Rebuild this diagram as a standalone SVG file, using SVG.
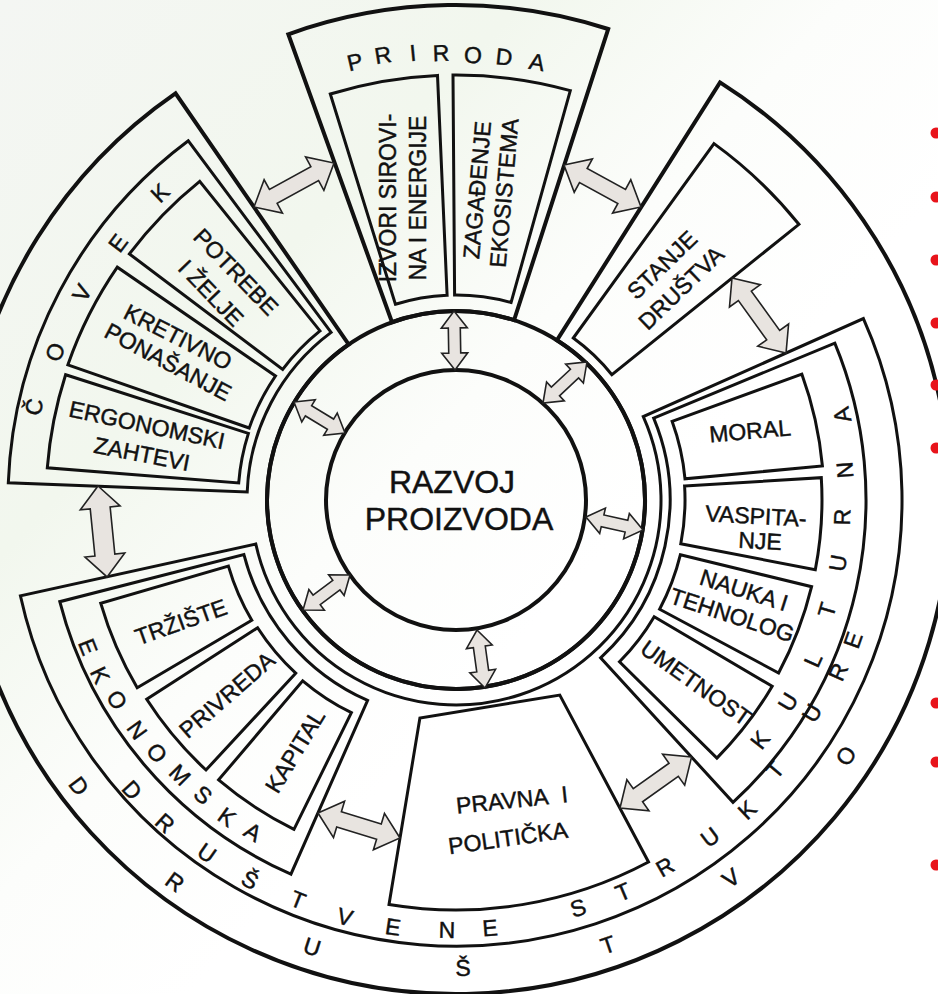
<svg xmlns="http://www.w3.org/2000/svg" width="938" height="994" viewBox="0 0 938 994">
<style>
.ln{fill:none;stroke:#111;stroke-width:3;stroke-linejoin:miter}
.thk{stroke-width:4}
.arr{fill:#e8e4e0;stroke:#222;stroke-width:1.6;stroke-linejoin:miter}
text{font-family:"Liberation Sans",Arial,sans-serif;fill:#111;stroke:#111;stroke-width:0.45}
.lb{font-size:23px;text-anchor:middle;dominant-baseline:central}
.rl{font-size:23px;text-anchor:middle;dominant-baseline:central}
.big{font-size:32px;text-anchor:middle;dominant-baseline:central}
.dot{fill:#e8141b}
</style>
<defs>
<linearGradient id="haze" x1="0" y1="0" x2="1" y2="1">
<stop offset="0" stop-color="#f4f6f3"/>
<stop offset="0.28" stop-color="#f2f7ee"/>
<stop offset="0.45" stop-color="#fcfdfb"/>
<stop offset="0.6" stop-color="#ffffff"/>
</linearGradient>
</defs>
<rect width="938" height="994" fill="#fff"/>
<rect width="938" height="994" fill="url(#haze)"/>

<g id="drustvo">
<path class="ln thk" d="M720,82.4 A494,494 0 1 1 175.5,93.4 L348.7,344.4 A189,189 0 1 0 557,340.2 Z"/>
<text class="rl" transform="translate(79,786) rotate(52.9)">D</text>
<text class="rl" transform="translate(175,882) rotate(36.3)">R</text>
<text class="rl" transform="translate(312,947) rotate(17.9)">U</text>
<text class="rl" transform="translate(463,968) rotate(-0.9)">Š</text>
<text class="rl" transform="translate(608,945) rotate(-18.9)">T</text>
<text class="rl" transform="translate(731,878) rotate(-36)">V</text>
<text class="rl" transform="translate(846,756) rotate(-56.7)">O</text>
</g>

<g id="ring">
<circle class="ln thk" cx="456" cy="500" r="189"/>
</g>

<g id="razvoj-proizvoda">
<circle class="ln thk" cx="456" cy="500" r="130"/>
<text class="big" x="452" y="482">RAZVOJ</text>
<text class="big" x="459" y="519">PROIZVODA</text>
</g>

<g id="priroda">
<path class="ln thk" d="M288.3,34.3 A495,495 0 0 1 608.2,29 L514.1,320.1 A189,189 0 0 0 392,322.2 Z"/>
<text class="rl" transform="translate(355,62) rotate(-13)">P</text>
<text class="rl" transform="translate(383,55) rotate(-9.3)">R</text>
<text class="rl" transform="translate(413,53) rotate(-5.5)">I</text>
<text class="rl" transform="translate(441,53) rotate(-2)">R</text>
<text class="rl" transform="translate(473,55) rotate(2.2)">O</text>
<text class="rl" transform="translate(504,57) rotate(6.1)">D</text>
<text class="rl" transform="translate(537,62) rotate(10.5)">A</text>
</g>
<g id="izvori">
<path class="ln" d="M330.3,94 A425,425 0 0 1 437.5,75.4 L447.1,295.2 A205,205 0 0 0 395.4,304.2 Z"/>
<text class="lb" transform="translate(388,198) rotate(-90)">IZVORI SIROVI-</text>
<text class="lb" transform="translate(418,198) rotate(-90)">NA I ENERGIJE</text>
</g>
<g id="zagadjenje">
<path class="ln" d="M453,75 A425,425 0 0 1 570.3,90.6 L511.1,302.5 A205,205 0 0 0 454.6,295 Z"/>
<text class="lb" transform="translate(477,190) rotate(-85)">ZAGAĐENJE</text>
<text class="lb" transform="translate(504,193) rotate(-85)">EKOSISTEMA</text>
</g>

<g id="covek">
<path class="ln" d="M8.3,482.8 A448,448 0 0 1 188.3,140.8 L331.1,332.4 A209,209 0 0 0 247.2,492 Z"/>
<text class="rl" transform="translate(34,407) rotate(-77.6)">Č</text>
<text class="rl" transform="translate(55,352) rotate(-69.7)">O</text>
<text class="rl" transform="translate(82,293) rotate(-61)">V</text>
<text class="rl" transform="translate(118,243) rotate(-52.7)">E</text>
<text class="rl" transform="translate(160,193) rotate(-44)">K</text>
</g>
<g id="potrebe">
<path class="ln" d="M129.4,253.9 A409,409 0 0 1 199.7,181.3 L320,330.9 A217,217 0 0 0 282.7,369.4 Z"/>
<text class="lb" transform="translate(236,272) rotate(46)">POTREBE</text>
<text class="lb" transform="translate(211,293) rotate(46)">I ŽELJE</text>
</g>
<g id="kretivno">
<path class="ln" d="M67.9,364.8 A411,411 0 0 1 117.3,267.2 L275.5,376 A219,219 0 0 0 249.2,428 Z"/>
<text class="lb" transform="translate(178,337) rotate(27)">KRETIVNO</text>
<text class="lb" transform="translate(168,362) rotate(28)">PONAŠANJE</text>
</g>
<g id="ergonomski">
<path class="ln" d="M47.3,467.8 A410,410 0 0 1 65.6,374.7 L248.4,433.4 A218,218 0 0 0 238.7,482.9 Z"/>
<text class="lb" transform="translate(147,425) rotate(12)">ERGONOMSKI</text>
<text class="lb" transform="translate(142,454) rotate(11)">ZAHTEVI</text>
</g>

<g id="stanje-drustva">
<path class="ln" d="M714,143.6 A440,440 0 0 1 798.9,224.3 L611.9,374.7 A200,200 0 0 0 573.3,338 Z"/>
<text class="lb" transform="translate(662,265) rotate(-44)">STANJE</text>
<text class="lb" transform="translate(681,288) rotate(-44)">DRUŠTVA</text>
</g>

<g id="drustvene-strukture">
<path class="ln" d="M863.4,318.6 A446,446 0 1 1 20.4,595.8 L255.8,544 A205,205 0 1 0 643.3,416.6 Z"/>
<text class="rl" transform="translate(132,790) rotate(48.2)">D</text>
<text class="rl" transform="translate(165,823) rotate(42)">R</text>
<text class="rl" transform="translate(207,853) rotate(35.2)">U</text>
<text class="rl" transform="translate(250,880) rotate(28.5)">Š</text>
<text class="rl" transform="translate(298,900) rotate(21.6)">T</text>
<text class="rl" transform="translate(345,917) rotate(14.9)">V</text>
<text class="rl" transform="translate(393,927) rotate(8.4)">E</text>
<text class="rl" transform="translate(447,930) rotate(1.2)">N</text>
<text class="rl" transform="translate(490,928) rotate(-4.5)">E</text>
<text class="rl" transform="translate(578,908) rotate(-16.6)">S</text>
<text class="rl" transform="translate(623,892) rotate(-23.1)">T</text>
<text class="rl" transform="translate(665,867) rotate(-29.7)">R</text>
<text class="rl" transform="translate(710,837) rotate(-37)">U</text>
<text class="rl" transform="translate(747,810) rotate(-43.2)">K</text>
<text class="rl" transform="translate(775,770) rotate(-49.8)">T</text>
<text class="rl" transform="translate(812,713) rotate(-59.1)">U</text>
<text class="rl" transform="translate(838,672) rotate(-65.8)">R</text>
<text class="rl" transform="translate(853,640) rotate(-70.6)">E</text>
</g>

<g id="kulturna">
<path class="ln" d="M653.7,418.1 L834.8,343.1 A410,410 0 0 1 733,802.3 L600.6,657.8 A214,214 0 0 0 653.7,418.1 Z"/>
<text class="rl" transform="translate(760,740) rotate(-51.7)">K</text>
<text class="rl" transform="translate(788,702) rotate(-58.7)">U</text>
<text class="rl" transform="translate(813,660) rotate(-65.9)">L</text>
<text class="rl" transform="translate(827,610) rotate(-73.5)">T</text>
<text class="rl" transform="translate(838,563) rotate(-80.6)">U</text>
<text class="rl" transform="translate(842,517) rotate(-87.5)">R</text>
<text class="rl" transform="translate(845,470) rotate(-94.4)">N</text>
<text class="rl" transform="translate(842,415) rotate(-102.4)">A</text>
</g>
<g id="moral">
<path class="ln" d="M672.1,421.3 L801.8,374.1 A368,368 0 0 1 822.4,466 L685,478.8 A230,230 0 0 0 672.1,421.3 Z"/>
<text class="lb" transform="translate(750,431) rotate(-5)">MORAL</text>
</g>
<g id="vaspitanje">
<path class="ln" d="M684.6,486 L821.3,477.7 A366,366 0 0 1 815.3,569.8 L680.8,543.7 A229,229 0 0 0 684.6,486 Z"/>
<text class="lb" transform="translate(756,516) rotate(3)">VASPITA-</text>
<text class="lb" transform="translate(760,541) rotate(3)">NJE</text>
</g>
<g id="nauka">
<path class="ln" d="M680.4,554.7 L811.6,586.7 A366,366 0 0 1 778.6,673 L659.6,609.2 A231,231 0 0 0 680.4,554.7 Z"/>
<text class="lb" transform="translate(744,590) rotate(17.6)">NAUKA I</text>
<text class="lb" transform="translate(732,615) rotate(18)">TEHNOLOG</text>
</g>
<g id="umetnost">
<path class="ln" d="M654.2,616.7 L772.2,686.3 A367,367 0 0 1 716.9,758.1 L619.5,661.8 A230,230 0 0 0 654.2,616.7 Z"/>
<text class="lb" transform="translate(696,683) rotate(35.5)">UMETNOST</text>
</g>

<g id="pravna-politicka">
<path class="ln" d="M559.8,695.1 L648.5,862 A410,410 0 0 1 389,904.5 L419.9,718 Z"/>
<text class="lb" transform="translate(512,800) rotate(-6)">PRAVNA <tspan dx="8">I</tspan></text>
<text class="lb" transform="translate(508,838) rotate(-8)">POLITIČKA</text>
</g>

<g id="ekonomska">
<path class="ln" d="M367.6,700.4 L290.9,874.2 A409,409 0 0 1 59.8,601.7 L243.9,554.5 A219,219 0 0 0 367.6,700.4 Z"/>
<text class="rl" transform="translate(88,647) rotate(68.2)">E</text>
<text class="rl" transform="translate(100,675) rotate(63.8)">K</text>
<text class="rl" transform="translate(117,700) rotate(59.5)">O</text>
<text class="rl" transform="translate(137,730) rotate(54.2)">N</text>
<text class="rl" transform="translate(157,753) rotate(49.8)">O</text>
<text class="rl" transform="translate(180,775) rotate(45.1)">M</text>
<text class="rl" transform="translate(203,795) rotate(40.6)">S</text>
<text class="rl" transform="translate(227,817) rotate(35.8)">K</text>
<text class="rl" transform="translate(253,832) rotate(31.4)">A</text>
</g>
<g id="trziste">
<path class="ln" d="M251.8,620.3 L137.2,687.8 A370,370 0 0 1 100.7,603.2 L228.4,566.1 A237,237 0 0 0 251.8,620.3 Z"/>
<text class="lb" transform="translate(181,622) rotate(-19.5)">TRŽIŠTE</text>
</g>
<g id="privreda">
<path class="ln" d="M295.7,673.2 L206,770 A368,368 0 0 1 146.7,699.3 L257.6,627.8 A236,236 0 0 0 295.7,673.2 Z"/>
<text class="lb" transform="translate(227,695) rotate(-41)">PRIVREDA</text>
</g>
<g id="kapital">
<path class="ln" d="M351.4,712.7 L294,829.3 A367,367 0 0 1 218.6,779.9 L302.7,680.8 A237,237 0 0 0 351.4,712.7 Z"/>
<text class="lb" transform="translate(295,751) rotate(-58.6)">KAPITAL</text>
</g>

<g id="connectors">
<path class="arr" transform="translate(254,207) rotate(-28.8)" d="M0,0L22,-19L22,-8L69.3,-8L69.3,-19L91.3,0L69.3,19L69.3,8L22,8L22,19Z"/>
<path class="arr" transform="translate(564,165) rotate(28.6)" d="M0,0L22,-19L22,-8L65.7,-8L65.7,-19L87.7,0L65.7,19L65.7,8L22,8L22,19Z"/>
<path class="arr" transform="translate(732,278) rotate(54.2)" d="M0,0L22,-19L22,-8L70.4,-8L70.4,-19L92.4,0L70.4,19L70.4,8L22,8L22,19Z"/>
<path class="arr" transform="translate(98,486) rotate(84.3)" d="M0,0L22,-20L22,-10L69.4,-10L69.4,-20L91.4,0L69.4,20L69.4,10L22,10L22,20Z"/>
<path class="arr" transform="translate(318,813) rotate(16.96)" d="M0,0L22,-19L22,-8L63.7,-8L63.7,-19L85.7,0L63.7,19L63.7,8L22,8L22,19Z"/>
<path class="arr" transform="translate(620,808) rotate(-35.5)" d="M0,0L22,-19L22,-8L65.9,-8L65.9,-19L87.9,0L65.9,19L65.9,8L22,8L22,19Z"/>
<path class="arr" transform="translate(454,311) rotate(89)" d="M0,0L17,-13L17,-6L42,-6L42,-13L59,0L42,13L42,6L17,6L17,13Z"/>
<path class="arr" transform="translate(294,402) rotate(31.3)" d="M0,0L17,-13L17,-6L42.7,-6L42.7,-13L59.7,0L42.7,13L42.7,6L17,6L17,13Z"/>
<path class="arr" transform="translate(543,403) rotate(-43)" d="M0,0L17,-13L17,-6L43.1,-6L43.1,-13L60.1,0L43.1,13L43.1,6L17,6L17,13Z"/>
<path class="arr" transform="translate(586,517) rotate(12.8)" d="M0,0L17,-13L17,-6L41.5,-6L41.5,-13L58.5,0L41.5,13L41.5,6L17,6L17,13Z"/>
<path class="arr" transform="translate(350,575) rotate(143.3)" d="M0,0L17,-13L17,-6L41.6,-6L41.6,-13L58.6,0L41.6,13L41.6,6L17,6L17,13Z"/>
<path class="arr" transform="translate(477,630) rotate(82.1)" d="M0,0L17,-13L17,-6L41.5,-6L41.5,-13L58.5,0L41.5,13L41.5,6L17,6L17,13Z"/>
</g>

<g id="bullets">
<circle class="dot" cx="936" cy="133" r="5.5"/>
<circle class="dot" cx="936" cy="197" r="5.5"/>
<circle class="dot" cx="936" cy="260" r="5.5"/>
<circle class="dot" cx="936" cy="323" r="5.5"/>
<circle class="dot" cx="936" cy="385" r="5.5"/>
<circle class="dot" cx="936" cy="448" r="5.5"/>
<circle class="dot" cx="936" cy="703" r="5.5"/>
<circle class="dot" cx="936" cy="762" r="5.5"/>
<circle class="dot" cx="936" cy="865" r="5.5"/>
</g>
</svg>
